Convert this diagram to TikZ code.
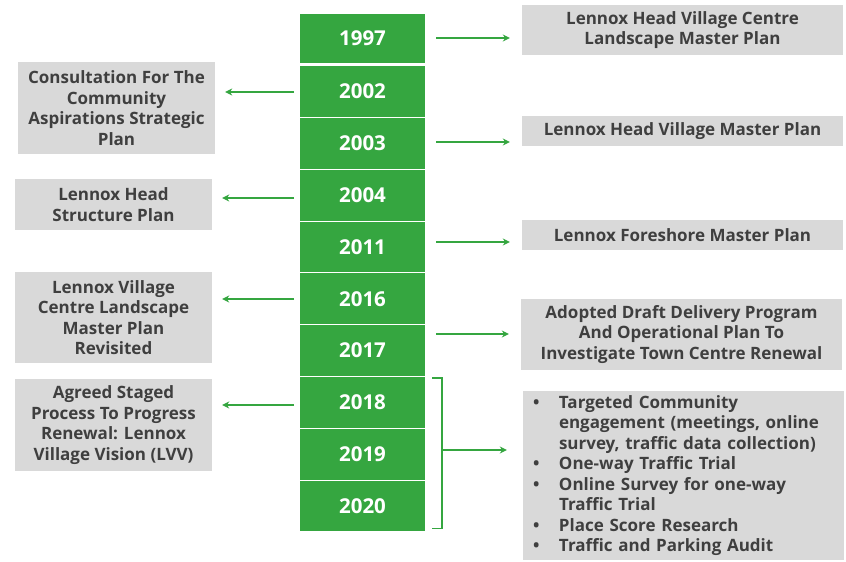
\documentclass[tikz,border=0pt]{standalone}
\usepackage{fontspec}
\setmainfont{Open Sans}
\usetikzlibrary{arrows.meta,positioning}
\definecolor{yeargreen}{HTML}{35A640}
\definecolor{plangray}{HTML}{D9D9D9}
\definecolor{plantext}{HTML}{3F3F3F}
\newcommand{\bitem}[1]{\hangindent=28pt\hangafter=1\noindent\makebox[28pt][l]{\hspace{2pt}\textbullet}#1\par}

\begin{document}
\begin{tikzpicture}[x=1pt,y=-1pt,
  year/.style={fill=yeargreen,draw=white,line width=1pt,minimum width=126pt,minimum height=51.8pt,
    inner sep=0pt,text=white,font=\fontsize{20.5}{24}\selectfont\bfseries},
  plan/.style={fill=plangray,text=plantext,align=center,inner sep=0pt,
    font=\fontsize{17}{20.5}\selectfont\bfseries},
  link/.style={draw=yeargreen,line width=1.8pt,-{Stealth[length=7pt,width=7pt]}},
  toright/.style={link,shorten <=10pt,shorten >=12pt},
  toleft/.style={link,shorten <=5pt,shorten >=10pt}]
\useasboundingbox (0,0) rectangle (846,562);

% years
\node[year,minimum height=50pt] (y1997) at (362.5,38) {1997};
\foreach \yr [count=\i from 0] in {2002,2003,2004,2011,2016,2017,2018,2019,2020}
  \node[year] (y\yr) at (362.5,{91.5+51.8*\i}) {\yr};

% right side
\node[plan,minimum width=321pt,minimum height=50pt] (p1997) at (682.5,30) {Lennox Head Village Centre\\Landscape Master Plan};
\node[plan,minimum width=321pt,minimum height=30pt] (p2003) at (682.5,131) {Lennox Head Village Master Plan};
\node[plan,minimum width=321pt,minimum height=30pt] (p2011) at (682.5,235) {Lennox Foreshore Master Plan};
\node[plan,minimum width=321pt,minimum height=71pt] (p2017) at (681.5,334.5) {Adopted Draft Delivery Program\\And Operational Plan To\\Investigate Town Centre Renewal};
\node[plan,minimum width=321pt,minimum height=169pt,text width=305pt,align=left] (p2020) at (683.5,475.5) {%
  \bitem{Targeted Community\newline engagement (meetings, online\newline survey, traffic data collection)}%
  \bitem{One-way Traffic Trial}%
  \bitem{Online Survey for one-way\newline Traffic Trial}%
  \bitem{Place Score Research}%
  \bitem{Traffic and Parking Audit}};

% left side
\node[plan,minimum width=197pt,minimum height=92pt] (p2002) at (116.5,108) {Consultation For The\\Community\\Aspirations Strategic\\Plan};
\node[plan,minimum width=197pt,minimum height=51pt] (p2004) at (113.5,204.5) {Lennox Head\\Structure Plan};
\node[plan,minimum width=197pt,minimum height=91pt] (p2016) at (113.5,317.5) {Lennox Village\\Centre Landscape\\Master Plan\\Revisited};
\node[plan,minimum width=197pt,minimum height=92pt] (p2018) at (113.5,425) {Agreed Staged\\Process To Progress\\Renewal: Lennox\\Village Vision (LVV)};

\draw[toright] (y1997.east) -- (y1997.east -| p1997.west);
\draw[toright] (y2003.east |- 0,142) -- (p2003.west |- 0,142);
\draw[toright] (y2011.east |- 0,242) -- (p2011.west |- 0,242);
\draw[toright] (y2017.east |- 0,334) -- (p2017.west |- 0,334);

\draw[toleft] (y2002.west |- 0,92) -- (p2002.east |- 0,92);
\draw[toleft] (y2004.west |- 0,198) -- (p2004.east |- 0,198);
\draw[toleft] (y2016.west |- 0,299) -- (p2016.east |- 0,299);
\draw[toleft] (y2018.west |- 0,405) -- (p2018.east |- 0,405);

% bracket 2018-2020
\coordinate (brace) at ([xshift=16pt]y2019.east);
\draw[yeargreen,line width=1.5pt] ([xshift=6pt,yshift=-2pt]y2018.north east) -| (brace)
  |- ([xshift=6pt,yshift=4pt]y2020.south east);
\draw[link,shorten >=16pt] (brace |- 0,450) -- (p2020.west |- 0,450);
\end{tikzpicture}
\end{document}
